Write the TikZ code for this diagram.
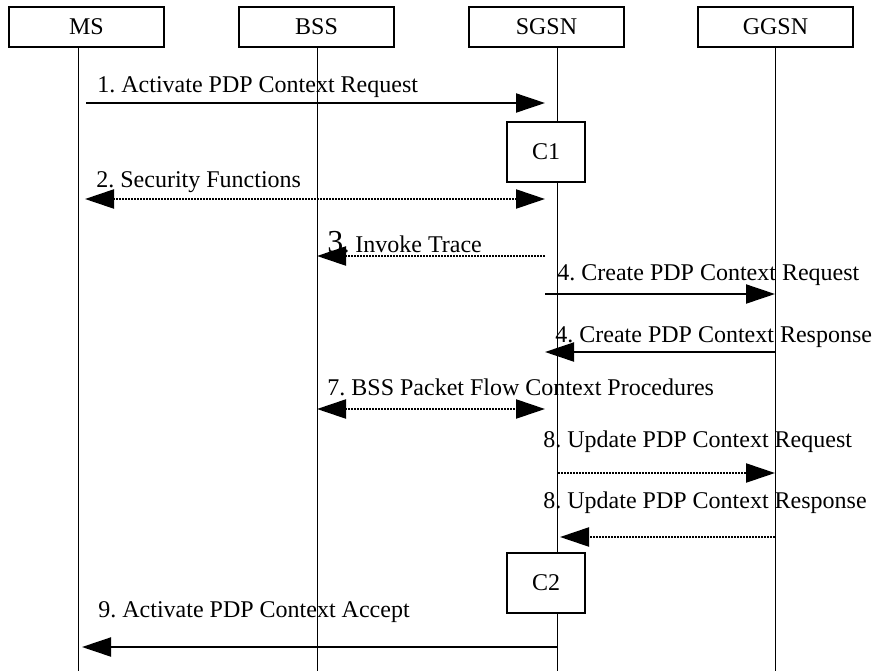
\documentclass[tikz,border=0pt]{standalone}
\usepackage{fontspec}
\setmainfont{Liberation Serif}
\usetikzlibrary{arrows.meta}

\tikzset{
  >={Triangle[length=14.5pt,width=9.5pt]},
  entity/.style={draw,line width=1pt,fill=white,inner sep=0pt,minimum width=77.5pt,minimum height=20pt},
  proc/.style={draw,line width=1pt,fill=white,inner sep=0pt,minimum width=39pt,minimum height=30pt},
  lifeline/.style={draw,line width=0.5pt},
  sig/.style={draw,line width=1pt},
  dsig/.style={draw,line width=1.1pt,dash pattern=on 1pt off 0.5pt},
  lbl/.style={anchor=base west,inner sep=0pt}
}

\begin{document}
\frenchspacing
\begin{tikzpicture}[x=0.5pt,y=-0.5pt,font=\fontsize{12}{14}\selectfont]
      \useasboundingbox (0,0) rectangle (873,671);

      % lifelines
      \coordinate (ms top)   at (78,47);   \coordinate (ms bot)   at (78,671);
      \coordinate (bss top)  at (317,47);  \coordinate (bss bot)  at (317,671);
      \coordinate (sgsn top) at (557,47);  \coordinate (sgsn bot) at (557,671);
      \coordinate (ggsn top) at (775,47);  \coordinate (ggsn bot) at (775,671);
      \draw[lifeline] (ms top) -- (ms bot);
      \draw[lifeline] (bss top) -- (bss bot);
      \draw[lifeline] (sgsn top) -- (sgsn bot);
      \draw[lifeline] (ggsn top) -- (ggsn bot);

      \begin{scope}[every node/.style={entity}]
        \node (ms)   at (86.5,27)  {MS};
        \node (bss)  at (316.5,27) {BSS};
        \node (sgsn) at (546.5,27) {SGSN};
        \node (ggsn) at (775.5,27) {GGSN};
      \end{scope}

      \begin{scope}[every node/.style={proc}]
        \node (c1) at (546,151.5) {C1};
        \node (c2) at (546,583)   {C2};
      \end{scope}

      % message end points
      \coordinate (m1a) at (86,103);  \coordinate (m1b) at (545,103);
      \coordinate (m2a) at (85,199);  \coordinate (m2b) at (545,199);
      \coordinate (m3a) at (545,256); \coordinate (m3b) at (317,256);
      \coordinate (m4a) at (545,294); \coordinate (m4b) at (775,294);
      \coordinate (m5a) at (775,352); \coordinate (m5b) at (545,352);
      \coordinate (m7a) at (317,409); \coordinate (m7b) at (545,409);
      \coordinate (m8a) at (558,473); \coordinate (m8b) at (775,473);
      \coordinate (m9a) at (775,537); \coordinate (m9b) at (560,537);
      \coordinate (m10a) at (557,647); \coordinate (m10b) at (82,647);

      \begin{scope}[every node/.style={lbl}]
        \node (l1)  at (97,92)   {1. Activate PDP Context Request};
        \node (l2)  at (96,187)  {2. Security Functions};
        \node (l3)  at (327,252) {{\fontsize{16}{18}\selectfont 3}. Invoke Trace};
        \node (l4)  at (557,280) {4. Create PDP Context Request};
        \node (l5)  at (555,342) {4. Create PDP Context Response};
        \node (l7)  at (327,395) {7. BSS Packet Flow Context Procedures};
        \node (l8)  at (543,447) {8. Update PDP Context Request};
        \node (l9)  at (543,508) {8. Update PDP Context Response};
        \node (l10) at (98,617)  {9. Activate PDP Context Accept};
      \end{scope}

      \path (m1a)  edge[sig,->]   (m1b);
      \path (m2a)  edge[dsig,<->] (m2b);
      \path (m3a)  edge[dsig,->]  (m3b);
      \path (m4a)  edge[sig,->]   (m4b);
      \path (m5a)  edge[sig,->]   (m5b);
      \path (m7a)  edge[dsig,<->] (m7b);
      \path (m8a)  edge[dsig,->]  (m8b);
      \path (m9a)  edge[dsig,->]  (m9b);
      \path (m10a) edge[sig,->]   (m10b);

    \end{tikzpicture}
\end{document}
